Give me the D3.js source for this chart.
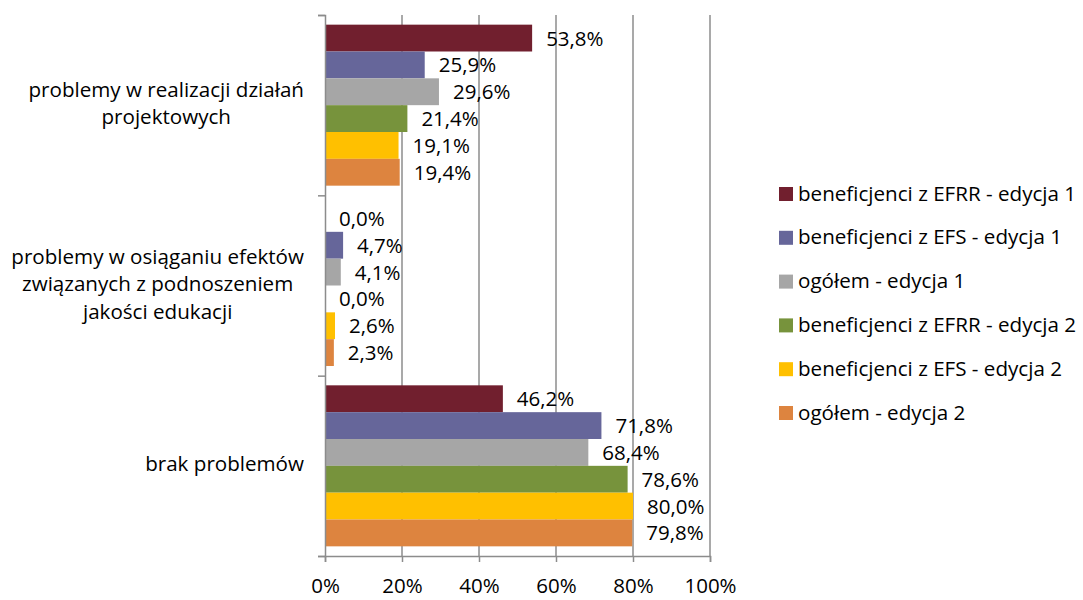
<!DOCTYPE html>
<html><head><meta charset="utf-8">
<script src="https://cdn.jsdelivr.net/npm/d3@7"></script>
<style>body{margin:0;background:#fff;} svg{display:block;font-family:"Open Sans",sans-serif;}</style>
</head><body>
<svg id="c" width="1083" height="600"></svg>
<script>
const categories = [
  ["problemy w realizacji działań", "projektowych"],
  ["problemy w osiąganiu efektów", "związanych z podnoszeniem", "jakości edukacji"],
  ["brak problemów"]
];
const seriesNames = [
  "beneficjenci z EFRR - edycja 1",
  "beneficjenci z EFS - edycja 1",
  "ogółem - edycja 1",
  "beneficjenci z EFRR - edycja 2",
  "beneficjenci z EFS - edycja 2",
  "ogółem - edycja 2"
];
const seriesColors = ["#711F2E", "#66669A", "#A6A6A6", "#77933C", "#FFC000", "#DD843F"];
// values per series, in category order
const values = [
  [53.8, 0.0, 46.2],
  [25.9, 4.7, 71.8],
  [29.6, 4.1, 68.4],
  [21.4, 0.0, 78.6],
  [19.1, 2.6, 80.0],
  [19.4, 2.3, 79.8]
];
const xTicks = [0, 20, 40, 60, 80, 100];

const svg = d3.select("#c");
const FS = 20.5;   // numbers
const FT = 20.6;   // words
const x = d3.scaleLinear().domain([0, 100]).range([325, 710]);
const catIdx = categories.map((d, i) => i);
const y = d3.scaleBand().domain(catIdx).range([15, 556]).paddingInner(0).paddingOuter(0);
const ys = d3.scaleBand().domain(d3.range(seriesNames.length)).range([0, y.bandwidth()]).paddingInner(0).paddingOuter(0.36);

// gridlines
svg.append("g").selectAll("line").data(xTicks.slice(1)).join("line")
  .attr("x1", d => x(d)).attr("x2", d => x(d)).attr("y1", 15).attr("y2", 556)
  .attr("stroke", "#8c8c8c").attr("stroke-width", 1.5);

// bars
const gs = svg.append("g").selectAll("g").data(values).join("g").attr("fill", (d, i) => seriesColors[i]);
gs.each(function(vals, si) {
  const g = d3.select(this);
  g.selectAll("rect").data(vals).join("rect")
    .attr("x", x(0)).attr("y", (v, ci) => y(ci) + ys(si))
    .attr("width", v => x(v) - x(0)).attr("height", ys.bandwidth());
  g.selectAll("text").data(vals).join("text")
    .attr("x", v => x(v) + 14).attr("y", (v, ci) => y(ci) + ys(si) + ys.bandwidth() / 2 + 2)
    .attr("dominant-baseline", "middle").attr("fill", "#000").attr("font-size", FS)
    .text(v => v.toFixed(1).replace(".", ",") + "%");
});

// x axis
const xAxis = d3.axisBottom(x).tickValues(xTicks).tickSize(6).tickPadding(16).tickFormat(d => d + "%");
const xg = svg.append("g").attr("transform", "translate(0,556)").call(xAxis);
xg.select(".domain").attr("stroke", "#8c8c8c").attr("stroke-width", 1.5);
xg.selectAll(".tick line").attr("stroke", "#8c8c8c").attr("stroke-width", 1.5);
xg.selectAll("text").attr("font-size", FS).attr("font-family", "Open Sans").attr("fill", "#000");

// y axis
const yAxisScale = d3.scaleLinear().domain([0, 3]).range([15, 556]);
const yg = svg.append("g").attr("transform", "translate(325,0)")
  .call(d3.axisLeft(yAxisScale).tickValues([0, 1, 2, 3]).tickSize(7).tickFormat(""));
yg.select(".domain").attr("stroke", "#8c8c8c").attr("stroke-width", 1.5);
yg.selectAll(".tick line").attr("stroke", "#8c8c8c").attr("stroke-width", 1.5);

// category labels
const lh = 27.5;
categories.forEach((lines, ci) => {
  const t = svg.append("text").attr("font-size", FT).attr("text-anchor", "middle").attr("fill", "#000");
  const cy = y(ci) + y.bandwidth() / 2;
  lines.forEach((ln, li) => {
    t.append("tspan").attr("x", 0).attr("y", cy + (li - (lines.length - 1) / 2) * lh).attr("dominant-baseline", "middle").text(ln);
  });
  const bb = t.node().getBBox();
  t.selectAll("tspan").attr("x", 304 - bb.width / 2);
});

// legend
const lg = svg.append("g").selectAll("g").data(seriesNames).join("g")
  .attr("transform", (d, i) => `translate(779,${194 + i * 43.8})`);
lg.append("rect").attr("x", 0).attr("y", -7).attr("width", 14).attr("height", 14).attr("fill", (d, i) => seriesColors[i]);
lg.append("text").attr("x", 19).attr("y", 1).attr("dominant-baseline", "middle").attr("font-size", FT).text(d => d);
</script>
</body></html>
